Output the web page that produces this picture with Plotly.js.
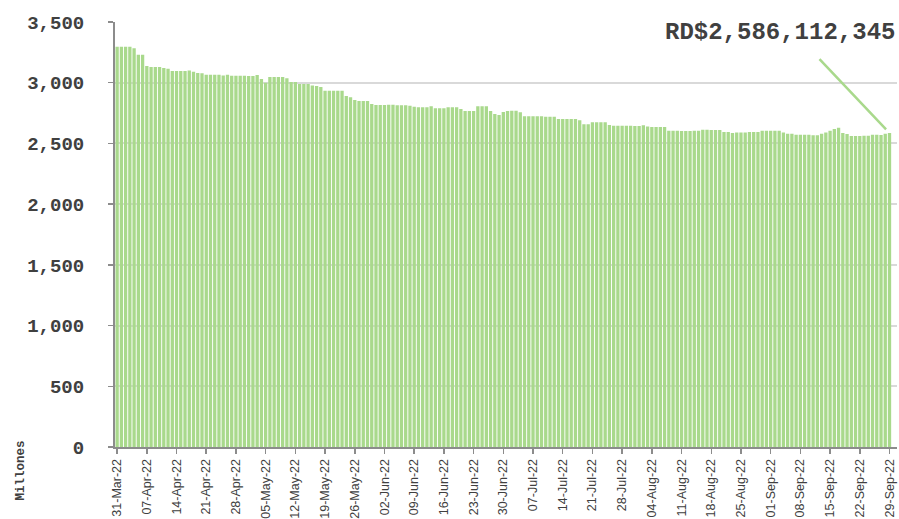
<!DOCTYPE html>
<html>
<head>
<meta charset="utf-8">
<script src="https://cdn.plot.ly/plotly-3.0.1.min.js"></script>
<style>html,body{margin:0;padding:0;background:#fff;}#chart{width:899px;height:519px;}</style>
</head>
<body>
<div id="chart"></div>
<script>
// Daily balance, millions (31-Mar-22 .. 29-Sep-22)
const START_DATE = '2022-03-31';
const values = [
  3297,3297,3297,3297,3283,3231,3231,3137,3129,3129,3129,3121,3116,3096,3096,3096,3096,3100,3090,3080,3077,3066,3066,3066,3066,3060,3066,3058,3058,3058,3058,
  3055,3055,3063,3030,3000,3047,3047,3047,3047,3036,3006,3006,2989,2989,2989,2978,2973,2965,2934,2934,2934,2934,2934,2890,2880,2858,2849,2849,2849,2825,
  2816,2816,2816,2819,2819,2814,2814,2814,2811,2803,2797,2797,2797,2806,2789,2789,2789,2797,2797,2797,2783,2767,2767,2767,2806,2806,2806,2767,2742,2734,2759,2767,
  2770,2770,2756,2723,2723,2723,2723,2723,2720,2720,2720,2701,2701,2701,2701,2701,2690,2657,2657,2674,2674,2674,2674,2652,2646,2646,2646,2646,2646,
  2643,2643,2649,2640,2635,2635,2635,2635,2605,2605,2605,2602,2602,2602,2605,2605,2613,2613,2610,2610,2610,2594,2594,2586,2589,2589,2589,2594,2594,2594,2605,
  2605,2605,2605,2605,2589,2580,2580,2572,2572,2572,2572,2567,2567,2580,2589,2605,2619,2630,2586,2578,2561,2561,2561,2564,2564,2572,2572,2570,2580,2586
];
const tickLabels = ['31-Mar-22','07-Apr-22','14-Apr-22','21-Apr-22','28-Apr-22','05-May-22','12-May-22','19-May-22','26-May-22',
  '02-Jun-22','09-Jun-22','16-Jun-22','23-Jun-22','30-Jun-22','07-Jul-22','14-Jul-22','21-Jul-22','28-Jul-22',
  '04-Aug-22','11-Aug-22','18-Aug-22','25-Aug-22','01-Sep-22','08-Sep-22','15-Sep-22','22-Sep-22','29-Sep-22'];
const annotationText = 'RD$2,586,112,345';
const yTitle = 'Millones';

// category labels, one per day
const MONTHS = ['Jan','Feb','Mar','Apr','May','Jun','Jul','Aug','Sep','Oct','Nov','Dec'];
const dates = [];
const d0 = new Date(START_DATE + 'T00:00:00Z');
for (let i = 0; i < values.length; i++) {
  const d = new Date(d0.getTime() + i * 86400000);
  const dd = String(d.getUTCDate()).padStart(2,'0');
  const yy = String(d.getUTCFullYear()).slice(2);
  dates.push(dd + '-' + MONTHS[d.getUTCMonth()] + '-' + yy);
}

const mono = '"Courier New", "Liberation Mono", monospace';
const sans = 'Arial, "Liberation Sans", sans-serif';

const trace = {
  type: 'bar',
  x: dates,
  y: values,
  marker: {color: '#a9d98c', line: {width: 0}},
  hoverinfo: 'x+y'
};

const layout = {
  width: 899, height: 519,
  margin: {l: 115, r: 2, t: 22, b: 72},
  paper_bgcolor: '#ffffff',
  plot_bgcolor: '#ffffff',
  showlegend: false,
  bargap: 0.22,
  xaxis: {
    type: 'category',
    tickmode: 'array',
    tickvals: tickLabels,
    ticktext: tickLabels,
    tickangle: -90,
    tickfont: {family: sans, size: 12.5, color: '#404040'},
    ticks: 'outside', ticklen: 5, tickwidth: 1.5, tickcolor: '#8c8c8c',
    showline: true, linecolor: '#8c8c8c', linewidth: 2,
    showgrid: false, zeroline: false
  },
  yaxis: {
    range: [0, 3500],
    dtick: 500,
    tickformat: ',d',
    tickfont: {family: mono, size: 19, color: '#404040', weight: 'bold'},
    ticklabelstandoff: 20,
    ticks: 'outside', ticklen: 5, tickwidth: 1.5, tickcolor: '#8c8c8c',
    showline: true, linecolor: '#8c8c8c', linewidth: 2,
    showgrid: true, gridcolor: '#d9d9d9', gridwidth: 2,
    zeroline: false
  },
  annotations: [
    {
      xref: 'paper', yref: 'paper', x: 1, y: 0.976,
      xanchor: 'right', yanchor: 'middle',
      text: annotationText, showarrow: false,
      font: {family: mono, size: 24, color: '#404040', weight: 'bold'}
    },
    {
      xref: 'x', yref: 'y', x: dates[dates.length - 1], y: values[values.length - 1],
      text: ' ', showarrow: true, arrowhead: 0, arrowwidth: 2.5, arrowcolor: '#a9d98c',
      ax: -73, ay: -77, standoff: 5
    },
    {
      xref: 'paper', yref: 'paper', x: -0.12, y: -0.055,
      xanchor: 'center', yanchor: 'middle',
      text: yTitle, textangle: -90, showarrow: false,
      font: {family: mono, size: 12.5, color: '#404040', weight: 'bold'}
    }
  ]
};

Plotly.newPlot('chart', [trace], layout, {displayModeBar: false, staticPlot: true});
</script>
</body>
</html>
